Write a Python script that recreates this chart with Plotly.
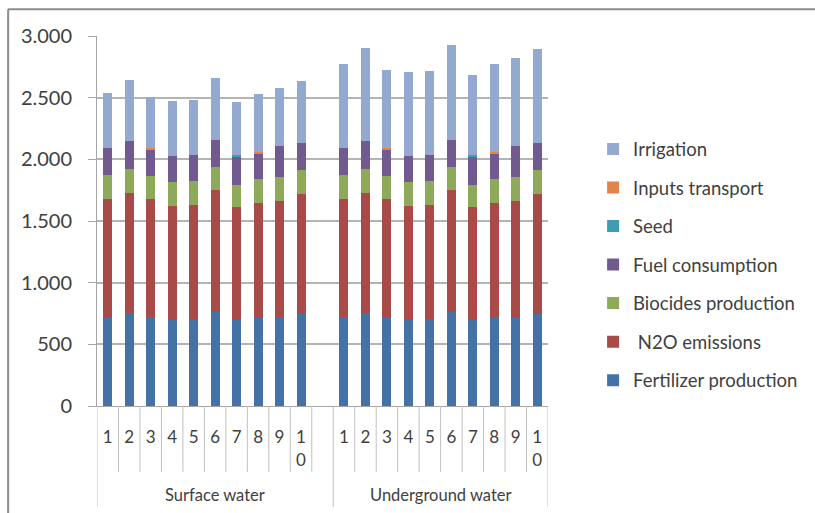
import plotly.graph_objects as go

groups = ["Surface water", "Underground water"]
runs = ["1", "2", "3", "4", "5", "6", "7", "8", "9", "10"]
run_labels = ["1", "2", "3", "4", "5", "6", "7", "8", "9", "1<br>0"]

fertilizer = [724, 751, 724, 700, 708, 762, 700, 716, 724, 743]
n2o = [957, 973, 957, 919, 919, 989, 911, 930, 938, 973]
biocides = [195, 195, 184, 195, 197, 184, 184, 194, 195, 195]
fuel = [213, 230, 213, 213, 211, 222, 227, 211, 248, 221]
seed = [0, 0, 0, 0, 0, 0, 11, 0, 0, 0]
transport = [0, 0, 11, 0, 0, 0, 0, 11, 0, 0]
irrigation_surface = [449, 494, 419, 449, 449, 505, 435, 468, 471, 503]
irrigation_underground = [681, 751, 635, 678, 681, 770, 648, 708, 717, 760]

series = [
    ("Fertilizer production", fertilizer * 2, "#4472a6"),
    (" N2O emissions", n2o * 2, "#a84a48"),
    ("Biocides production", biocides * 2, "#8fa95a"),
    ("Fuel consumption", fuel * 2, "#715a8f"),
    ("Seed", seed * 2, "#3f9db3"),
    ("Inputs transport", transport * 2, "#e0844a"),
    ("Irrigation", irrigation_surface + irrigation_underground, "#93a9cf"),
]

# slot positions: group 0 -> 0..9, empty slot 10, group 1 -> 11..20
xpos = [g * (len(runs) + 1) + i for g in range(len(groups)) for i in range(len(runs))]
ticktext = run_labels * 2

fig = go.Figure()
for idx, (name, vals, col) in enumerate(series):
    fig.add_trace(go.Bar(
        x=xpos, y=vals, name=name, width=0.42,
        marker=dict(color=col, line=dict(width=0)),
        legendgroup=name, legendrank=len(series) - idx,
    ))

TXT = "#404040"
FONT = "Lato"
grid = "#b4b4b4"

shapes = []
n = len(runs)
total_slots = len(groups) * (n + 1) - 1
for k in range(total_slots + 1):
    b = k - 0.5
    long = (b == -0.5) or (b == total_slots - 0.5) or (b == n + 0.5)
    shapes.append(dict(type="line", xref="x", yref="paper", x0=b, x1=b,
                       y0=0, y1=(-0.273 if long else -0.178),
                       line=dict(color="#c0c0c0", width=1)))
# outer chart frame (top & left)
shapes.append(dict(type="line", xref="paper", yref="paper", x0=-0.197, x1=1.65,
                   y0=1.072, y1=1.072, line=dict(color="#8c8c8c", width=2)))
shapes.append(dict(type="line", xref="paper", yref="paper", x0=-0.197, x1=-0.197,
                   y0=1.072, y1=-0.3, line=dict(color="#8c8c8c", width=2)))

annotations = []
for g, gname in enumerate(groups):
    center = g * (n + 1) + (n - 1) / 2 + (0.5 if g == 0 else 0)
    annotations.append(dict(x=center, y=-0.24, xref="x", yref="paper", text=gname,
                            showarrow=False, font=dict(family=FONT, size=16.5, color=TXT),
                            yanchor="middle", xanchor="center"))

fig.update_layout(
    width=815, height=513,
    margin=dict(l=97, r=267, t=36, b=107),
    paper_bgcolor="white", plot_bgcolor="white",
    barmode="stack",
    separators=",.",
    font=dict(family=FONT, color=TXT),
    showlegend=True,
    legend=dict(x=1.1, y=0.745, xanchor="left", yanchor="top",
                traceorder="grouped", tracegroupgap=11.5,
                font=dict(family=FONT, size=18.5, color=TXT),
                bgcolor="rgba(0,0,0,0)"),
    xaxis=dict(range=[-0.5, total_slots - 0.5], tickmode="array",
               tickvals=xpos, ticktext=ticktext, ticks="",
               ticklabelstandoff=16,
               tickfont=dict(family=FONT, size=17, color=TXT),
               showgrid=False, zeroline=False, showline=True,
               linecolor="#a6a6a6", linewidth=1),
    yaxis=dict(range=[0, 3000], dtick=500, tickformat=",.0f",
               ticks="outside", ticklen=8, tickcolor="#a6a6a6",
               ticklabelstandoff=12,
               tickfont=dict(family=FONT, size=20, color=TXT),
               showgrid=True, gridcolor=grid, gridwidth=1.5,
               zeroline=False, showline=True, linecolor="#a6a6a6", linewidth=1),
    shapes=shapes, annotations=annotations,
)

fig.write_html("out.html")
